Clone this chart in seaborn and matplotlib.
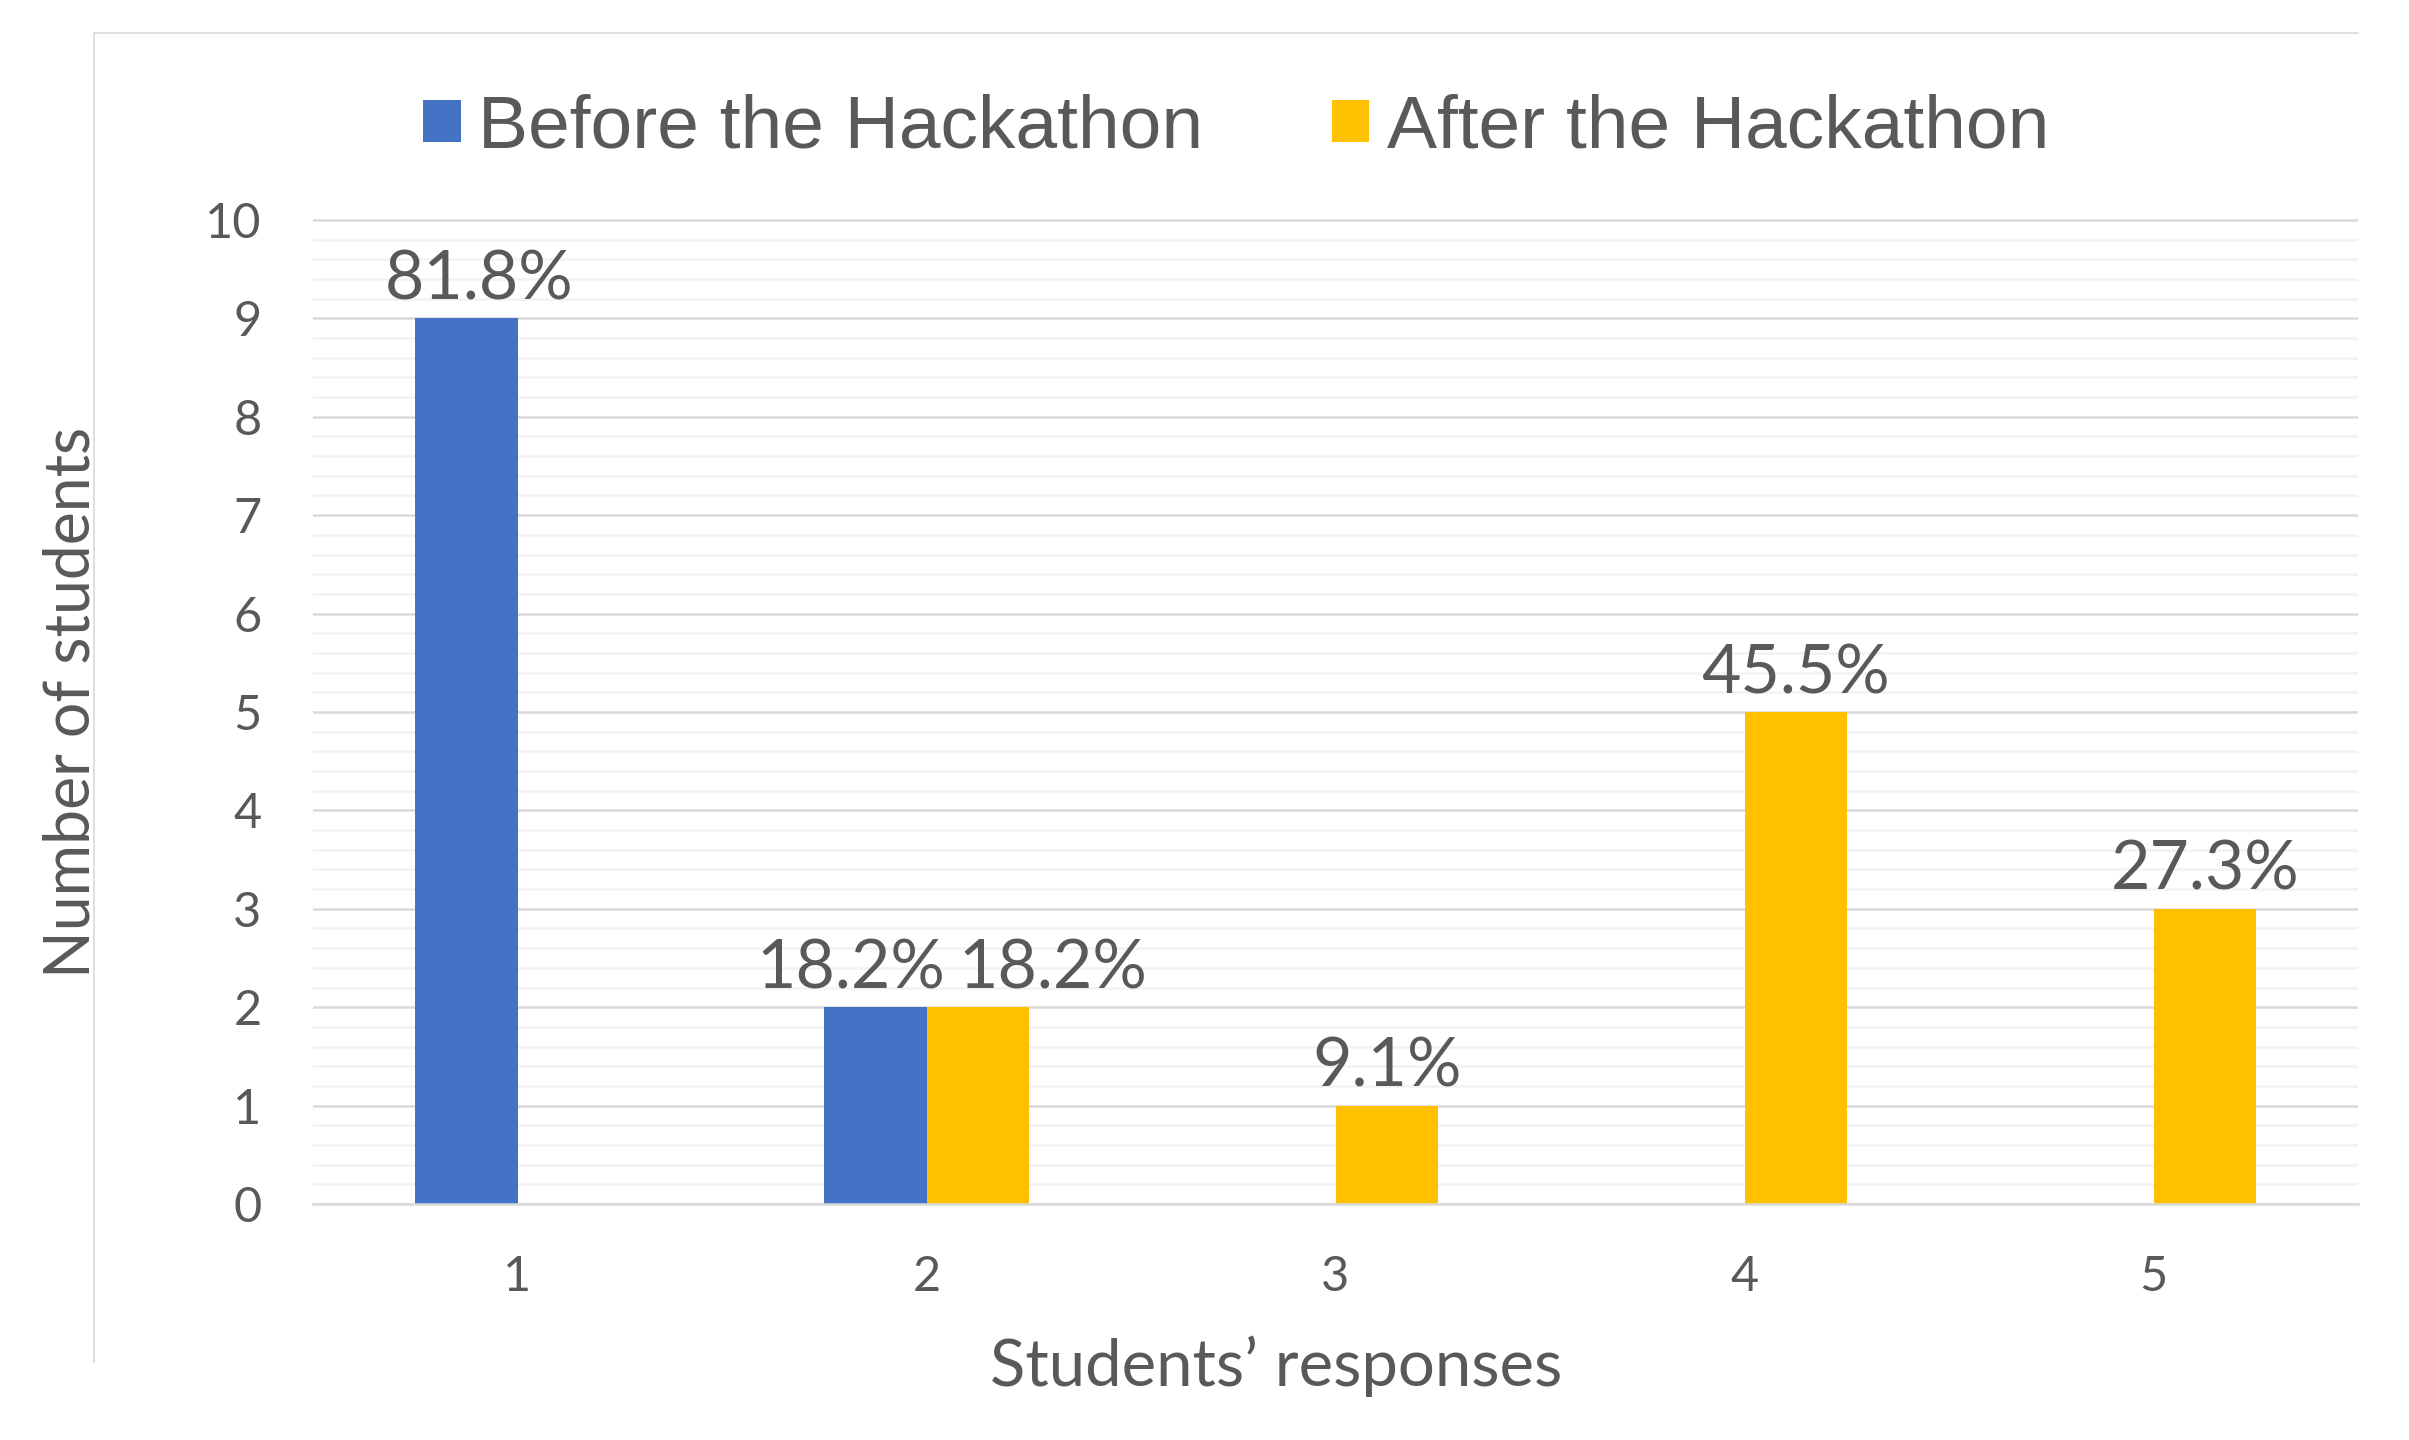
import matplotlib
matplotlib.use("Agg")
import matplotlib.pyplot as plt
import seaborn as sns
import pandas as pd
from matplotlib.lines import Line2D
from matplotlib.ticker import MultipleLocator

# Data
responses = ["1", "2", "3", "4", "5"]
series = ["Before the Hackathon", "After the Hackathon"]
before = [9, 2, 0, 0, 0]
after = [0, 2, 1, 5, 3]
before_pct = ["81.8%", "18.2%", "", "", ""]
after_pct = ["", "18.2%", "9.1%", "45.5%", "27.3%"]

# horizontal nudge (points) for labels, as placed in the source chart
before_nudge = [9, -18, 0, 0, 0]
after_nudge = [0, 54, 0, 0, 0]

TEXT = "#595959"
COLORS = ["#4472C4", "#FFC000"]

df = pd.DataFrame({
    "response": responses * 2,
    "students": before + after,
    "period": [series[0]] * len(responses) + [series[1]] * len(responses),
})

sns.set_theme(style="white")
plt.rcParams["font.family"] = ["Lato", "DejaVu Sans"]

W, H = 2409, 1440
fig = plt.figure(figsize=(W / 100, H / 100), dpi=100)
left, right, top, bottom = 313, 2358, 218, 1204
ax = fig.add_axes([left / W, 1 - bottom / H, (right - left) / W, (bottom - top) / H])

sns.barplot(data=df, x="response", y="students", hue="period", hue_order=series,
            palette=COLORS, width=0.5, gap=0, linewidth=0, saturation=1, ax=ax)

ax.set_xlim(-0.5, 4.5)
ax.set_ylim(0, 10.02)
ax.yaxis.set_major_locator(MultipleLocator(1))
ax.yaxis.set_minor_locator(MultipleLocator(0.2))
ax.grid(which="major", axis="y", color="#d9d9d9", lw=1.8)
ax.grid(which="minor", axis="y", color="#f2f2f2", lw=1.8)
ax.grid(which="both", axis="x", visible=False)
ax.set_axisbelow(True)
for side in ["top", "right", "left"]:
    ax.spines[side].set_visible(False)
ax.spines["bottom"].set_color("#d9d9d9")
ax.spines["bottom"].set_linewidth(1.8)

ax.tick_params(axis="both", which="both", length=0, labelsize=35, pad=37, labelcolor=TEXT)

# data labels
for cont, pcts, nudges in zip(ax.containers, [before_pct, after_pct], [before_nudge, after_nudge]):
    for bar, txt, dx in zip(cont, pcts, nudges):
        if not txt:
            continue
        ax.annotate(txt, (bar.get_x() + bar.get_width() / 2, bar.get_height()),
                    xytext=(dx, 5), textcoords="offset points",
                    ha="center", va="bottom", fontsize=49, color=TEXT)

ax.set_xlabel("Students\u2019 responses", fontsize=47, color=TEXT)
ax.set_ylabel("Number of students", fontsize=45, color=TEXT)
ax.xaxis.set_label_coords(0.471, -0.133)
ax.yaxis.set_label_coords(-0.104, 0.509)

# legend on top
handles, labels = ax.get_legend_handles_labels()
ax.get_legend().remove()
fig.legend(handles, labels, loc="center left", bbox_to_anchor=(423 / W, 1 - 128 / H),
           ncol=2, frameon=False, prop={"family": "Liberation Sans", "size": 54},
           handlelength=0.5, handleheight=0.5, handletextpad=0.23, columnspacing=1.72,
           borderaxespad=0, borderpad=0, labelcolor=TEXT)

# thin chart-area border (top and left only, as in the source)
fig.add_artist(Line2D([94 / W, 2358 / W], [1 - 33 / H] * 2, transform=fig.transFigure,
                      color="#d9d9d9", lw=1.2))
fig.add_artist(Line2D([94 / W] * 2, [1 - 33 / H, 1 - 1362 / H], transform=fig.transFigure,
                      color="#d9d9d9", lw=1.2))

fig.savefig("out.png", dpi=100)
